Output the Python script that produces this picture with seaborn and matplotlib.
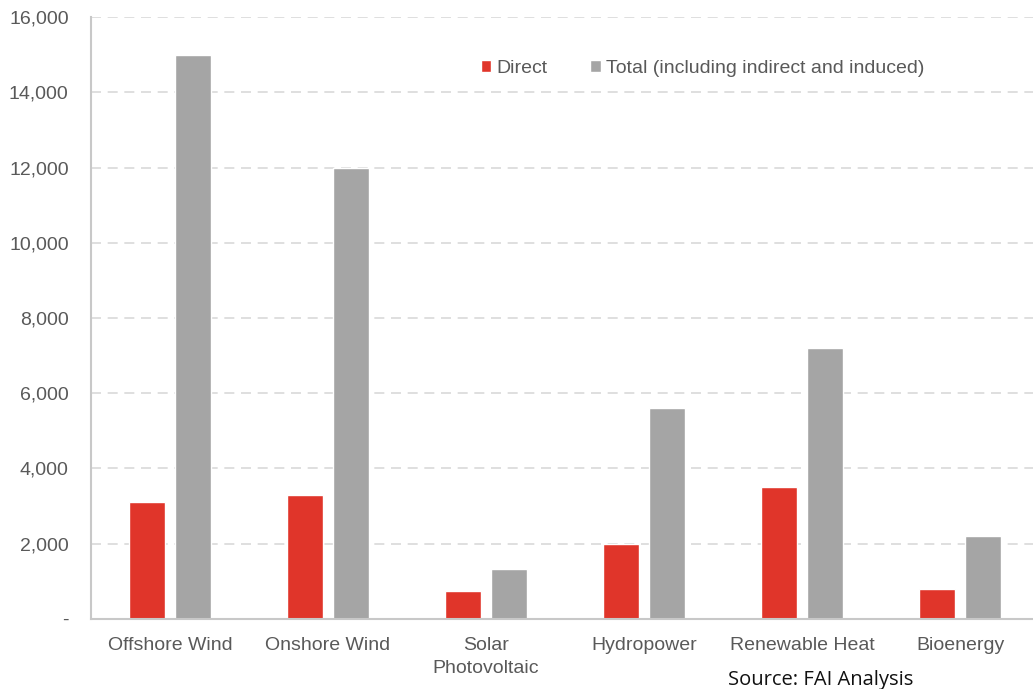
import matplotlib
matplotlib.use("Agg")
import matplotlib.pyplot as plt
import seaborn as sns
import pandas as pd
from matplotlib.ticker import FuncFormatter

categories = ["Offshore Wind", "Onshore Wind", "Solar\nPhotovoltaic",
              "Hydropower", "Renewable Heat", "Bioenergy"]
direct = [3100, 3300, 750, 2000, 3500, 800]
total = [15000, 12000, 1330, 5600, 7200, 2200]
series_names = ["Direct", "Total (including indirect and induced)"]
yticks = [0, 2000, 4000, 6000, 8000, 10000, 12000, 14000, 16000]

df = pd.DataFrame({
    "category": categories * 2,
    "series": [series_names[0]] * len(categories) + [series_names[1]] * len(categories),
    "jobs": direct + total,
})

sns.set_theme(style="white")
plt.rcParams["font.family"] = ["Liberation Sans", "DejaVu Sans"]

fig = plt.figure(figsize=(10.33, 6.89), dpi=100)
ax = fig.add_axes([0.088, 0.102, 0.912, 0.873])

palette = {series_names[0]: "#E0352A", series_names[1]: "#A5A5A5"}
sns.barplot(data=df, x="category", y="jobs", hue="series", order=categories,
            hue_order=series_names, palette=palette, width=0.58, gap=0.22,
            saturation=1, ax=ax, legend=True)

ax.set_ylim(0, 16000)
ax.set_xlim(-0.5, 5.46)
ax.set_yticks(yticks)
ax.yaxis.set_major_formatter(FuncFormatter(lambda v, p: "-" if v == 0 else f"{int(v):,}"))
ax.grid(axis="y", color="#D9D9D9", linestyle=(0, (6, 4)), linewidth=1.2)
ax.set_axisbelow(True)
ax.set_xlabel("")
ax.set_ylabel("")

for side in ["top", "right"]:
    ax.spines[side].set_visible(False)
for side in ["left", "bottom"]:
    ax.spines[side].set_color("#C8C8C8")
    ax.spines[side].set_linewidth(1.5)

ax.tick_params(axis="both", length=0, labelsize=14, labelcolor="#595959")
ax.tick_params(axis="y", pad=16)
ax.tick_params(axis="x", pad=13)
for lbl in ax.get_xticklabels():
    lbl.set_linespacing(1.45)

handles, labels = ax.get_legend_handles_labels()
ax.legend(handles, labels, loc="upper left", bbox_to_anchor=(0.395, 0.958),
          ncol=2, frameon=False, fontsize=14, labelcolor="#595959",
          handlelength=0.55, handleheight=0.55, handletextpad=0.25,
          columnspacing=2.2)

fig.text(0.705, -0.001, "Source: FAI Analysis", fontsize=14.5,
         family=["Open Sans", "DejaVu Sans"], color="#111111",
         ha="left", va="bottom")

fig.savefig("out.png", dpi=100)
